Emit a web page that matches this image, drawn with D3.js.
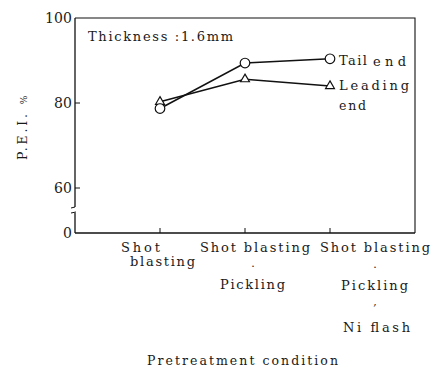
<!DOCTYPE html>
<html>
<head>
<meta charset="utf-8">
<script src="https://cdn.jsdelivr.net/npm/d3@7"></script>
<style>
  html, body { margin: 0; padding: 0; background: #fff; }
  svg text { font-family: "DejaVu Serif", "Liberation Serif", "Times New Roman", Times, serif; fill: #1a1a1a; }
</style>
</head>
<body>
<svg id="chart" width="440" height="370"></svg>
<script>
// Pretreatment conditions (multi-line tick labels)
const categories = ["SB", "SB+P", "SB+P+Ni"];
const categoryLines = [
  ["Shot", "blasting"],
  ["Shot blasting", ".", "Pickling"],
  ["Shot blasting", ".", "Pickling", ",", "Ni flash"]
];
// P.E.I. (%) for each end of the strip
const tailEnd = [78.7, 89.4, 90.4];
const leadingEnd = [80.3, 85.6, 84.0];
const yTicks = [0, 60, 80, 100];

const svg = d3.select("#chart");
const plotL = 75, plotR = 415, plotT = 18, plotB = 233;

const x = d3.scalePoint().domain(categories).range([plotL, plotR]).padding(1);
// broken axis: 0 at the bottom, then 60..100 stretched over most of the height
const y = d3.scaleLinear().domain([0, 55, 60, 100]).range([plotB, 210, 188, plotT]);

const ink = "#111";

// serif text, letter-spaced out to the wide set of the typeset figure
function label(px, py, str, size, anchor, width) {
  const t = svg.append("text").attr("x", px).attr("y", py)
    .attr("font-size", size).attr("text-anchor", anchor || "start").text(str);
  if (width) t.attr("textLength", width).attr("lengthAdjust", "spacing");
  return t;
}

// frame (top and right sides)
svg.append("path")
  .attr("d", `M${plotL},${plotT}H${plotR}V${plotB}`)
  .attr("fill", "none").attr("stroke", ink).attr("stroke-width", 1.1);
// bottom axis
svg.append("line").attr("x1", plotL).attr("x2", plotR).attr("y1", plotB).attr("y2", plotB)
  .attr("stroke", ink).attr("stroke-width", 1.3);
// left axis with a break between 0 and 60
svg.append("line").attr("x1", plotL).attr("x2", plotL).attr("y1", plotT).attr("y2", 207)
  .attr("stroke", ink).attr("stroke-width", 1.3);
svg.append("line").attr("x1", plotL).attr("x2", plotL).attr("y1", 213).attr("y2", plotB)
  .attr("stroke", ink).attr("stroke-width", 1.3);
svg.append("line").attr("x1", plotL - 4).attr("x2", plotL).attr("y1", 208).attr("y2", 207)
  .attr("stroke", ink).attr("stroke-width", 1);
svg.append("line").attr("x1", plotL - 4).attr("x2", plotL + 1).attr("y1", 213).attr("y2", 212)
  .attr("stroke", ink).attr("stroke-width", 1);

// y ticks (inward) and labels
yTicks.forEach(v => {
  if (v > 0 && v < 100) {
    svg.append("line").attr("x1", plotL).attr("x2", plotL + 5)
      .attr("y1", y(v)).attr("y2", y(v)).attr("stroke", ink).attr("stroke-width", 1);
  }
  const w = String(v).length * 9;
  label(plotL - 3 - w, y(v) + 5, v, 14, "start", w);
});

// x ticks (inward)
categories.forEach(c => {
  const cx = x(c);
  svg.append("line").attr("x1", cx).attr("x2", cx).attr("y1", plotB).attr("y2", plotB - 5)
    .attr("stroke", ink).attr("stroke-width", 1);
});

// first category: two lines, slightly staggered
const c0 = x(categories[0]);
label(c0 - 39, 252, categoryLines[0][0], 13, "start", 39);
label(c0 - 30, 266, categoryLines[0][1], 13, "start", 65);
// second category
const c1 = x(categories[1]);
label(c1 - 45, 252, categoryLines[1][0], 13, "start", 110);
label(c1 + 8, 267, categoryLines[1][1], 11, "middle");
label(c1 - 25, 289, categoryLines[1][2], 13, "start", 65);
// third category
const c2 = x(categories[2]);
label(c2 - 10, 252, categoryLines[2][0], 13, "start", 110);
label(c2 + 45, 268, categoryLines[2][1], 11, "middle");
label(c2 + 11, 290, categoryLines[2][2], 13, "start", 67);
label(c2 + 45, 305, categoryLines[2][3], 11, "middle");
label(c2 + 13, 332, categoryLines[2][4], 13, "start", 67);

// axis titles
label(147, 365, "Pretreatment condition", 12.5, "start", 191);
svg.append("text").attr("transform", "translate(27,160) rotate(-90)")
  .attr("font-size", 12.5)
  .html('<tspan textLength="46" lengthAdjust="spacing">P.E.I.</tspan><tspan dx="7" font-size="9">%</tspan>');

// annotation
label(88, 41, "Thickness :1.6mm", 13, "start", 145);

// series
const line = d3.line().x((d, i) => x(categories[i])).y(d => y(d));
svg.append("path").datum(leadingEnd).attr("d", line)
  .attr("fill", "none").attr("stroke", ink).attr("stroke-width", 1.6);
svg.append("path").datum(tailEnd).attr("d", line)
  .attr("fill", "none").attr("stroke", ink).attr("stroke-width", 1.6);

svg.selectAll(".tri").data(leadingEnd).enter().append("path")
  .attr("class", "tri")
  .attr("d", d3.symbol().type(d3.symbolTriangle).size(34))
  .attr("transform", (d, i) => `translate(${x(categories[i])},${y(d)})`)
  .attr("fill", "#fff").attr("stroke", ink).attr("stroke-width", 1.2);
svg.selectAll(".circ").data(tailEnd).enter().append("circle")
  .attr("class", "circ")
  .attr("cx", (d, i) => x(categories[i])).attr("cy", d => y(d)).attr("r", 4.8)
  .attr("fill", "#fff").attr("stroke", ink).attr("stroke-width", 1.2);

// series labels at line ends
const lastX = x(categories[2]);
label(lastX + 9, y(tailEnd[2]) + 6, "Tail", 13, "start", 28);
label(lastX + 43, y(tailEnd[2]) + 7, "end", 13, "start", 33);
label(lastX + 9, y(leadingEnd[2]) + 4, "Leading", 13, "start", 70);
label(lastX + 9, y(leadingEnd[2]) + 24, "end", 12.5, "start", 27);
</script>
</body>
</html>
